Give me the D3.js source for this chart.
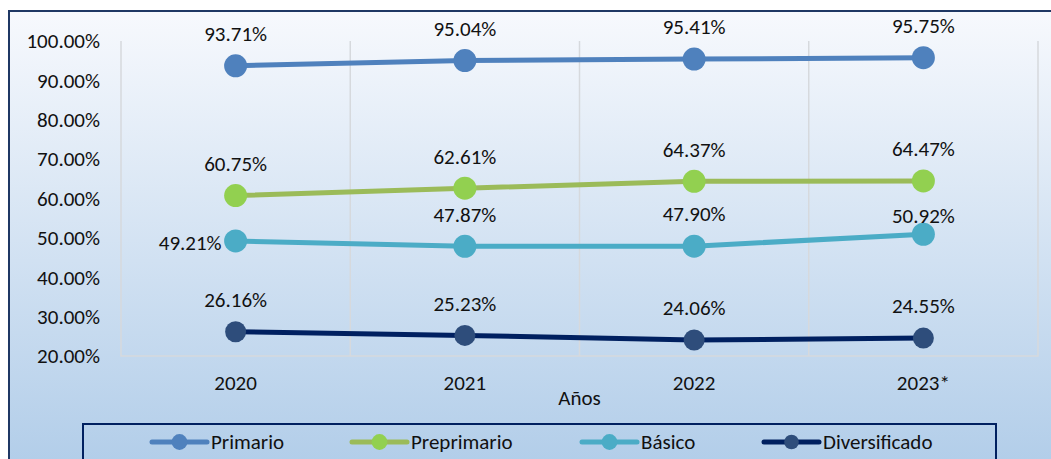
<!DOCTYPE html>
<html>
<head>
<meta charset="utf-8">
<script src="https://cdn.jsdelivr.net/npm/d3@7"></script>
<style>
  body { margin: 0; background: #fff; }
  svg text { font-family: Carlito, "Open Sans", sans-serif; fill: #111; }
</style>
</head>
<body>
<div id="chart"></div>
<script>
// data
const years = ["2020", "2021", "2022", "2023*"];
const primario = [93.71, 95.04, 95.41, 95.75];
const preprimario = [60.75, 62.61, 64.37, 64.47];
const basico = [49.21, 47.87, 47.90, 50.92];
const diversificado = [26.16, 25.23, 24.06, 24.55];
const yTicks = [20, 30, 40, 50, 60, 70, 80, 90, 100];

const series = [
  { name: "Primario", values: primario, line: "#4f81bd", dot: "#4f81bd", r: 11.5 },
  { name: "Preprimario", values: preprimario, line: "#9bbb59", dot: "#92d050", r: 11.5 },
  { name: "Básico", values: basico, line: "#4bacc6", dot: "#4bacc6", r: 11.5 },
  { name: "Diversificado", values: diversificado, line: "#002060", dot: "#2e4d7b", r: 10.5 }
];

const width = 1051;
const height = 459;
const margin = { top: 41, right: 13, bottom: 103, left: 121 };
const fontSize = '21px';

const svg = d3.select('#chart').append('svg')
  .attr('width', width)
  .attr('height', height);

// background frame
const defs = svg.append('defs');
const grad = defs.append('linearGradient')
  .attr('id', 'bg').attr('x1', 0).attr('y1', 0).attr('x2', 0).attr('y2', 1);
grad.append('stop').attr('offset', '0%').attr('stop-color', '#f7f9fd');
grad.append('stop').attr('offset', '100%').attr('stop-color', '#aecbe8');

svg.append('rect')
  .attr('x', 9).attr('y', 11)
  .attr('width', width + 10).attr('height', height + 20)
  .attr('fill', 'url(#bg)')
  .attr('stroke', '#1f3864')
  .attr('stroke-width', 2);

const x = d3.scaleBand()
  .domain(years)
  .range([margin.left, width - margin.right])
  .padding(0);

const y = d3.scaleLinear()
  .domain([20, 100])
  .range([height - margin.bottom, margin.top]);

// plot area border + vertical grid
const grid = svg.append('g').attr('stroke', '#d6d9dd').attr('stroke-width', 1.5);
grid.selectAll('line.v')
  .data(years.slice(1))
  .join('line')
  .attr('x1', d => x(d)).attr('x2', d => x(d))
  .attr('y1', y(100)).attr('y2', y(20));
grid.append('path')
  .attr('fill', 'none')
  .attr('d', `M${x.range()[0]},${y(100)}V${y(20)}H${x.range()[1]}V${y(100)}`);

// y axis labels
svg.append('g')
  .selectAll('text')
  .data(yTicks)
  .join('text')
  .attr('x', 100)
  .attr('y', d => y(d))
  .attr('dy', '0.35em')
  .attr('text-anchor', 'end')
  .style('font-size', fontSize)
  .text(d => d.toFixed(2) + '%');

// x axis labels
svg.append('g')
  .selectAll('text')
  .data(years)
  .join('text')
  .attr('x', d => x(d) + x.bandwidth() / 2)
  .attr('y', 383)
  .attr('dy', '0.35em')
  .attr('text-anchor', 'middle')
  .style('font-size', fontSize)
  .text(d => d);

svg.append('text')
  .attr('x', (x.range()[0] + x.range()[1]) / 2)
  .attr('y', 398)
  .attr('dy', '0.35em')
  .attr('text-anchor', 'middle')
  .style('font-size', fontSize)
  .text('Años');

const line = d3.line()
  .x((d, i) => x(years[i]) + x.bandwidth() / 2)
  .y(d => y(d));

series.forEach(s => {
  const g = svg.append('g');
  g.append('path')
    .attr('d', line(s.values))
    .attr('fill', 'none')
    .attr('stroke', s.line)
    .attr('stroke-width', 5)
    .attr('stroke-linejoin', 'round');
  g.selectAll('circle')
    .data(s.values)
    .join('circle')
    .attr('cx', (d, i) => x(years[i]) + x.bandwidth() / 2)
    .attr('cy', d => y(d))
    .attr('r', s.r)
    .attr('fill', s.dot);
  g.selectAll('text')
    .data(s.values)
    .join('text')
    .each(function(d, i) {
      const el = d3.select(this);
      const cx = x(years[i]) + x.bandwidth() / 2;
      const cy = y(d);
      if (s.name === "Básico" && i === 0) {
        el.attr('x', cx - 14).attr('y', cy + 2).attr('text-anchor', 'end');
      } else if (s.name === "Básico" && i === 3) {
        el.attr('x', cx).attr('y', cy - 19).attr('text-anchor', 'middle');
      } else {
        el.attr('x', cx).attr('y', cy - 32).attr('text-anchor', 'middle');
      }
    })
    .attr('dy', '0.35em')
    .style('font-size', fontSize)
    .text(d => d.toFixed(2) + '%');
});

// legend
const legend = svg.append('g');
legend.append('rect')
  .attr('x', 83).attr('y', 424)
  .attr('width', 913).attr('height', 60)
  .attr('fill', 'none')
  .attr('stroke', '#002060')
  .attr('stroke-width', 2);

const legendX = [152, 352, 582, 764];
series.forEach((s, i) => {
  const lx = legendX[i];
  const g = legend.append('g').attr('transform', `translate(${lx},442)`);
  g.append('line')
    .attr('x1', 0).attr('x2', 55)
    .attr('stroke', s.line)
    .attr('stroke-width', 5)
    .attr('stroke-linecap', 'round');
  g.append('circle')
    .attr('cx', 27.5).attr('r', s.r * 0.6 + 1)
    .attr('fill', s.dot);
  g.append('text')
    .attr('x', 59)
    .attr('dy', '0.35em')
    .style('font-size', fontSize)
    .text(s.name);
});
</script>
</body>
</html>
